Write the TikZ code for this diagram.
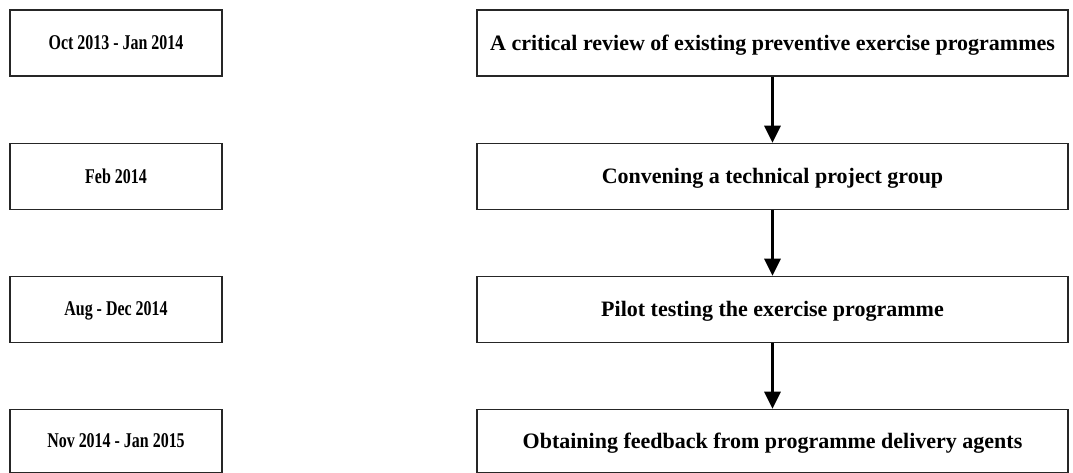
\documentclass[tikz,border=0pt]{standalone}
\usepackage{graphicx}
\usepackage{fontspec}
\setmainfont{Liberation Serif}
\usetikzlibrary{arrows.meta}
% narrow lettering for the date column
\newcommand{\narrowdate}[1]{\scalebox{0.76}[1]{#1}}
\begin{document}
\begin{tikzpicture}[x=1pt,y=-1pt,
  box/.style={draw=black!85,line width=1.6pt,fill=white,inner sep=0pt,text depth=1pt},
  datebox/.style={box,minimum width=212pt,font=\fontsize{21}{25}\selectfont\bfseries},
  stepbox/.style={box,minimum width=591pt,font=\fontsize{22}{26}\selectfont\bfseries},
  flow/.style={line width=3pt,-{Triangle[width=16pt,length=17pt]}}]
  \useasboundingbox (0,0) rectangle (1073,473);
  % date column
  \node[datebox,minimum height=66pt] (d1) at (116,43) {\narrowdate{Oct 2013 - Jan 2014}};
  \node[datebox,minimum height=66pt] (d2) at (116,176.5) {\narrowdate{Feb 2014}};
  \node[datebox,minimum height=66pt] (d3) at (116,309.5) {\narrowdate{Aug - Dec 2014}};
  \node[datebox,minimum height=63pt] (d4) at (116,441) {\narrowdate{Nov 2014 - Jan 2015}};
  % activity column
  \node[stepbox,minimum height=66pt] (s1) at (772.5,43) {A critical review of existing preventive exercise programmes};
  \node[stepbox,minimum height=66pt] (s2) at (772.5,176.5) {Convening a technical project group};
  \node[stepbox,minimum height=66pt] (s3) at (772.5,309.5) {Pilot testing the exercise programme};
  \node[stepbox,minimum height=63pt] (s4) at (772.5,441) {Obtaining feedback from programme delivery agents};
  % sequence arrows
  \draw[flow] (s1.south) -- (s2.north);
  \draw[flow] (s2.south) -- (s3.north);
  \draw[flow] (s3.south) -- (s4.north);
\end{tikzpicture}
\end{document}
